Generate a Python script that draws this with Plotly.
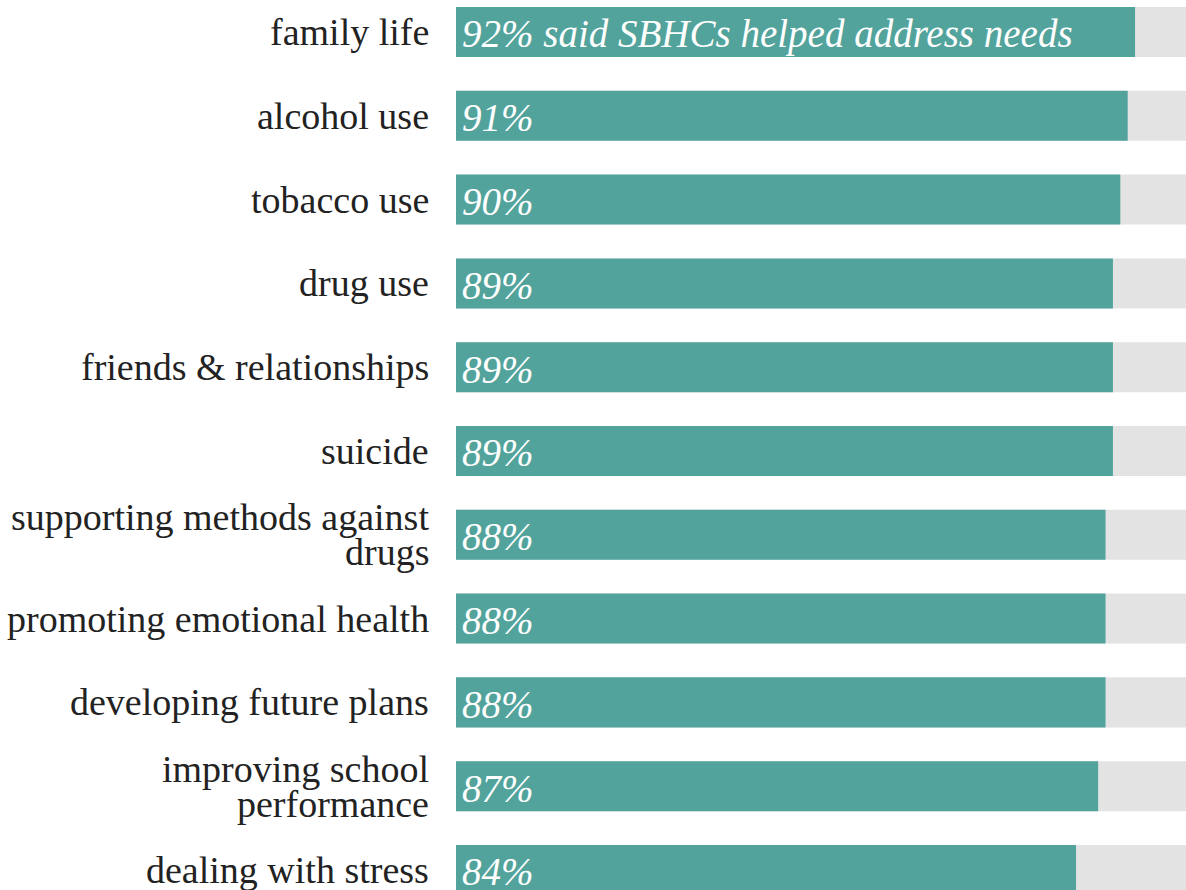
import plotly.graph_objects as go

categories = [
    "family life",
    "alcohol use",
    "tobacco use",
    "drug use",
    "friends & relationships",
    "suicide",
    "supporting methods against<br>drugs",
    "promoting emotional health",
    "developing future plans",
    "improving school<br>performance",
    "dealing with stress",
]
values = [92, 91, 90, 89, 89, 89, 88, 88, 88, 87, 84]
value_labels = ["92% said SBHCs helped address needs", "91%", "90%", "89%", "89%",
                "89%", "88%", "88%", "88%", "87%", "84%"]
full = [100] * len(categories)

TEAL = "#52a39c"
GREY = "#e3e3e3"
FONT = "Liberation Serif"
LABEL_SIZE = 38
LINE_GAP = 35

idx = list(range(len(categories)))

fig = go.Figure()
fig.add_trace(go.Bar(y=idx, x=full, orientation="h", marker=dict(color=GREY, line=dict(width=0)),
                     width=0.597, hoverinfo="skip"))
fig.add_trace(go.Bar(y=idx, x=values, orientation="h", marker=dict(color=TEAL, line=dict(width=0)),
                     width=0.597, hoverinfo="skip"))

for i, (c, t) in enumerate(zip(categories, value_labels)):
    lines = c.split("<br>")
    n = len(lines)
    for k, ln in enumerate(lines):
        off = ((n - 1) / 2 - k) * LINE_GAP
        fig.add_annotation(x=0, y=i, xref="paper", yref="y", text=ln, showarrow=False,
                           xanchor="right", yanchor="middle", align="right", xshift=-25,
                           yshift=off,
                           font=dict(family=FONT, size=LABEL_SIZE, color="#222222"))
    fig.add_annotation(x=0, y=i, xref="x", yref="y", text="<i>" + t + "</i>", showarrow=False,
                       xanchor="left", yanchor="middle", align="left", xshift=4, yshift=-2,
                       font=dict(family=FONT, size=39, color="white"))

fig.update_layout(
    width=1186, height=890,
    margin=dict(l=456, r=0, t=0, b=0),
    barmode="overlay",
    showlegend=False,
    plot_bgcolor="white", paper_bgcolor="white",
    xaxis=dict(range=[0, 98.9], visible=False, fixedrange=True),
    yaxis=dict(range=[10.239, -0.382], visible=False, fixedrange=True),
)

fig.write_html("out.html", config={"displayModeBar": False})
